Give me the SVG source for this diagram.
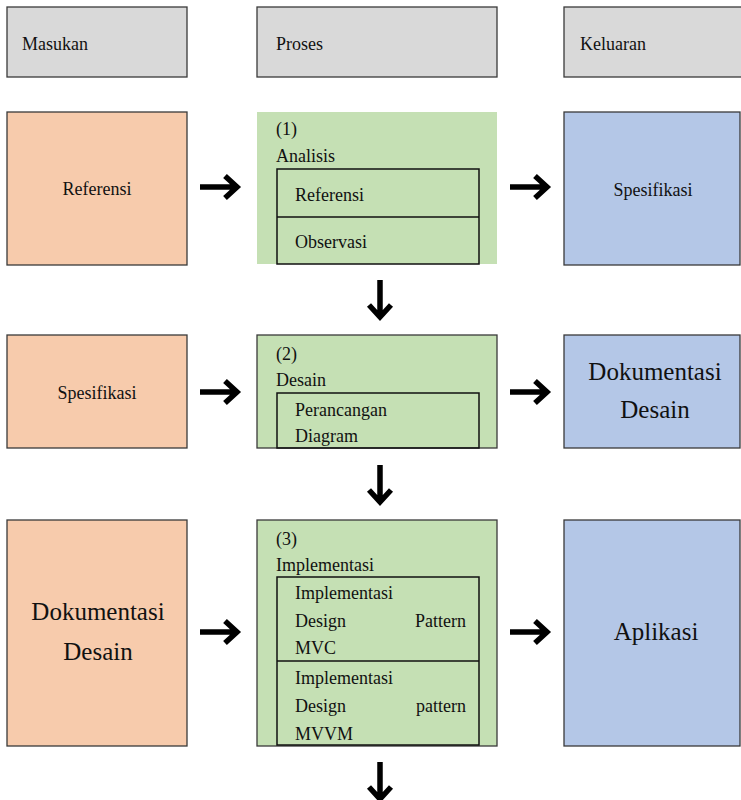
<svg xmlns="http://www.w3.org/2000/svg" width="741" height="800" viewBox="0 0 741 800">
  <style>
    .hdr { fill: #d9d9d9; stroke: #3a3a3a; stroke-width: 1.3; }
    .in { fill: #f7cbac; stroke: #3a3a3a; stroke-width: 1.3; }
    .proc { fill: #c5e0b4; stroke: #3a3a3a; stroke-width: 1.3; }
    .out { fill: #b4c7e7; stroke: #3a3a3a; stroke-width: 1.3; }
    .sub { fill: none; stroke: #111; stroke-width: 1.5; }
    text { font-family: "Liberation Serif", Tinos, "Times New Roman", Times, "DejaVu Serif", serif; fill: #111; }
    .t18 { font-size: 18px; }
    .big { font-size: 25px; }
    .mid { text-anchor: middle; }
    .arrow { fill: none; stroke: #000; stroke-width: 5.5; stroke-linejoin: miter; }
  </style>

  <!-- column headers -->
  <g id="hdr-masukan">
    <rect class="hdr" x="7" y="7" width="180" height="70"/>
    <text class="t18" x="22" y="50">Masukan</text>
  </g>
  <g id="hdr-proses">
    <rect class="hdr" x="257" y="7" width="240" height="70"/>
    <text class="t18" x="276" y="50">Proses</text>
  </g>
  <g id="hdr-keluaran">
    <rect class="hdr" x="564" y="7" width="190" height="70"/>
    <text class="t18" x="580" y="50">Keluaran</text>
  </g>

  <!-- row 1: analysis -->
  <g id="in-referensi">
    <rect class="in" x="7" y="112" width="180" height="153"/>
    <text class="t18 mid" x="97" y="195">Referensi</text>
  </g>
  <g id="proc-analisis">
    <rect x="257" y="112" width="240" height="152" fill="#c5e0b4"/>
    <text class="t18" x="276" y="135">(1)</text>
    <text class="t18" x="276" y="162">Analisis</text>
    <rect class="sub" x="277" y="169" width="202" height="95"/>
    <line class="sub" x1="277" y1="217" x2="479" y2="217"/>
    <text class="t18" x="295" y="201">Referensi</text>
    <text class="t18" x="295" y="248">Observasi</text>
  </g>
  <g id="out-spesifikasi">
    <rect class="out" x="564" y="112" width="176" height="153"/>
    <text class="t18 mid" x="653" y="196">Spesifikasi</text>
  </g>

  <!-- row 2: design -->
  <g id="in-spesifikasi">
    <rect class="in" x="7" y="335" width="180" height="113"/>
    <text class="t18 mid" x="97" y="399">Spesifikasi</text>
  </g>
  <g id="proc-desain">
    <rect class="proc" x="257" y="335" width="240" height="113"/>
    <text class="t18" x="276" y="360">(2)</text>
    <text class="t18" x="276" y="386">Desain</text>
    <rect class="sub" x="277" y="393" width="202" height="55"/>
    <text class="t18" x="295" y="416">Perancangan</text>
    <text class="t18" x="295" y="442">Diagram</text>
  </g>
  <g id="out-dokumentasi">
    <rect class="out" x="564" y="335" width="176" height="113"/>
    <text class="big mid" x="655" y="380">Dokumentasi</text>
    <text class="big mid" x="655" y="418">Desain</text>
  </g>

  <!-- row 3: implementation -->
  <g id="in-dokumentasi">
    <rect class="in" x="7" y="520" width="180" height="226"/>
    <text class="big mid" x="98" y="620">Dokumentasi</text>
    <text class="big mid" x="98" y="660">Desain</text>
  </g>
  <g id="proc-implementasi">
    <rect class="proc" x="257" y="520" width="240" height="226"/>
    <text class="t18" x="276" y="545">(3)</text>
    <text class="t18" x="276" y="571">Implementasi</text>
    <rect class="sub" x="277" y="577" width="202" height="168"/>
    <line class="sub" x1="277" y1="661" x2="479" y2="661"/>
    <text class="t18" x="295" y="599">Implementasi</text>
    <text class="t18" x="295" y="627">Design</text>
    <text class="t18" x="466" y="627" text-anchor="end">Pattern</text>
    <text class="t18" x="295" y="654">MVC</text>
    <text class="t18" x="295" y="684">Implementasi</text>
    <text class="t18" x="295" y="712">Design</text>
    <text class="t18" x="466" y="712" text-anchor="end">pattern</text>
    <text class="t18" x="295" y="740">MVVM</text>
  </g>
  <g id="out-aplikasi">
    <rect class="out" x="564" y="520" width="176" height="226"/>
    <text class="big mid" x="656" y="640">Aplikasi</text>
  </g>

  <!-- connectors -->
  <g id="connectors">
    <path class="arrow" d="M200 187 H236 M225 176 L237 187 L225 198"/>
    <path class="arrow" d="M510 187 H546 M535 176 L547 187 L535 198"/>
    <path class="arrow" d="M380 280 V316 M369 305 L380 317 L391 305"/>
    <path class="arrow" d="M200 392 H236 M225 381 L237 392 L225 403"/>
    <path class="arrow" d="M510 392 H546 M535 381 L547 392 L535 403"/>
    <path class="arrow" d="M380 465 V501 M369 490 L380 502 L391 490"/>
    <path class="arrow" d="M200 632 H236 M225 621 L237 632 L225 643"/>
    <path class="arrow" d="M510 632 H546 M535 621 L547 632 L535 643"/>
    <path class="arrow" d="M380 762 V798 M369 787 L380 799 L391 787"/>
  </g>
</svg>
